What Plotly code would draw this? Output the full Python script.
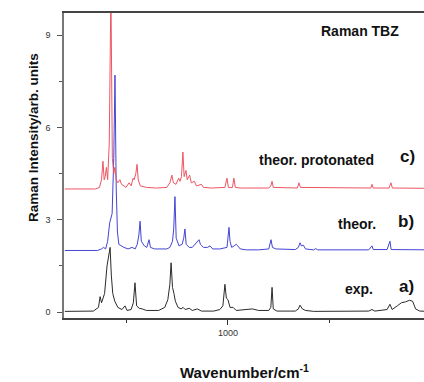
import plotly.graph_objects as go

# Raman spectra of TBZ: wavenumber (cm^-1) and intensity (arb. units, offset per trace)
exp_wn = [200, 340, 365, 373, 380, 395, 407, 413, 422, 428, 435, 445, 460, 480, 495, 505,
          525, 536, 544, 552, 565, 580, 600, 660, 690, 705, 715, 721, 728, 735, 742, 755,
          770, 780, 790, 810, 825, 850, 870, 930, 960, 975, 985, 992, 1000, 1010, 1025,
          1040, 1080, 1120, 1150, 1200, 1210, 1216, 1222, 1240, 1330, 1345, 1353, 1365,
          1380, 1420, 1690, 1706, 1720, 1780, 1794, 1805, 1830, 1850, 1870, 1890, 1905,
          1920, 1940, 1990]
exp_int = [0.02, 0.03, 0.15, 0.5, 0.3, 0.6, 1.5, 1.7, 2.1, 1.2, 0.6, 0.35, 0.15, 0.08, 0.2, 0.05,
           0.08, 0.3, 0.95, 0.2, 0.12, 0.1, 0.05, 0.05, 0.15, 0.4, 0.9, 1.6, 0.8, 0.6, 0.35, 0.15,
           0.1, 0.15, 0.08, 0.12, 0.05, 0.1, 0.03, 0.03, 0.08, 0.2, 0.9, 0.45, 0.4, 0.15, 0.15,
           0.05, 0.07, 0.1, 0.05, 0.05, 0.15, 0.8, 0.1, 0.03, 0.03, 0.1, 0.22, 0.1,
           0.05, 0.02, 0.03, 0.08, 0.03, 0.08, 0.25, 0.08, 0.2, 0.3, 0.33, 0.38, 0.35,
           0.1, 0.03, 0.02]

theor_wn = [200, 360, 380, 390, 400, 410, 420, 432, 440, 446, 452, 458, 465, 475, 490, 510,
            530, 545, 555, 563, 569, 575, 590, 602, 613, 620, 640, 700, 715, 728, 734, 740,
            746, 760, 775, 783, 789, 795, 810, 825, 840, 850, 858, 865, 880, 900, 912, 925,
            960, 995, 1000, 1005, 1010, 1018, 1030, 1040, 1048, 1060, 1090, 1150, 1200, 1211,
            1218, 1235, 1330, 1345, 1353, 1360, 1370, 1380, 1420, 1430, 1440, 1690, 1706,
            1712, 1780, 1794, 1800, 1990]
theor_int = [2.0, 2.0, 2.05, 2.1, 2.05, 2.3, 2.9, 3.2, 5.0, 7.7, 4.0, 2.6, 2.2, 2.15, 2.1, 2.05,
             2.1, 2.05, 2.2, 2.5, 2.95, 2.3, 2.15, 2.1, 2.35, 2.1, 2.05, 2.05, 2.1, 2.3, 2.7, 3.75,
             2.4, 2.15, 2.2, 2.4, 2.7, 2.2, 2.1, 2.1, 2.2, 2.3, 2.35, 2.2, 2.1, 2.1, 2.15, 2.05,
             2.05, 2.1, 2.4, 2.75, 2.3, 2.1, 2.15, 2.2, 2.15, 2.05, 2.02, 2.02, 2.05, 2.35,
             2.1, 2.05, 2.03, 2.1, 2.25, 2.15, 2.17, 2.05, 2.02, 2.06, 2.02, 2.02, 2.15,
             2.03, 2.03, 2.3, 2.03, 2.02]

prot_wn = [200, 350, 370, 380, 387, 393, 398, 404, 410, 418, 426, 433, 440, 445, 452, 460,
           470, 478, 490, 500, 515, 525, 535, 540, 548, 554, 560, 570, 600, 650, 700, 715,
           725, 732, 745, 758, 765, 772, 779, 785, 794, 800, 812, 820, 835, 845, 870, 880,
           920, 985, 995, 1002, 1022, 1029, 1036, 1060, 1200, 1210, 1216, 1222, 1340, 1348,
           1355, 1700, 1706, 1712, 1790, 1799, 1806, 1990]
prot_int = [4.0, 4.0, 4.05, 4.3, 4.9, 4.3, 4.4, 4.7, 4.3, 5.5, 10.5, 5.0, 4.5, 4.7, 4.3, 4.2,
            4.3, 4.15, 4.1, 4.05, 4.2, 4.1, 4.35, 4.3, 4.5, 4.8, 4.3, 4.1, 4.05, 4.03, 4.05, 4.2,
            4.45, 4.2, 4.15, 4.35, 4.25, 4.4, 5.2, 4.4, 4.6, 4.3, 4.45, 4.2, 4.25, 4.1, 4.15, 4.05,
            4.03, 4.05, 4.35, 4.05, 4.05, 4.35, 4.05, 4.03, 4.03, 4.1, 4.25, 4.05, 4.03, 4.2,
            4.05, 4.03, 4.15, 4.03, 4.03, 4.2, 4.03, 4.02]

y_ticks = [0, 3, 6, 9]
x_ticks = [1000]

FONT = "Liberation Sans, Arial, sans-serif"

fig = go.Figure()
fig.add_trace(go.Scatter(x=exp_wn, y=exp_int, mode="lines",
                         line=dict(color="#2b2b2b", width=1), name="exp."))
fig.add_trace(go.Scatter(x=theor_wn, y=theor_int, mode="lines",
                         line=dict(color="#4444d4", width=1), name="theor."))
fig.add_trace(go.Scatter(x=prot_wn, y=prot_int, mode="lines",
                         line=dict(color="#ec5662", width=1), name="theor. protonated"))

labels = [
    ("<b>Raman TBZ</b>", 0.822, 0.941, 14),
    ("<b>theor. protonated</b>", 0.702, 0.518, 14),
    ("<b>c)</b>", 0.955, 0.528, 17),
    ("<b>theor.</b>", 0.814, 0.308, 14),
    ("<b>b)</b>", 0.95, 0.315, 17),
    ("<b>exp.</b>", 0.82, 0.095, 14),
    ("<b>a)</b>", 0.95, 0.102, 17),
]
annotations = [dict(text=t, x=x, y=y, xref="paper", yref="paper", showarrow=False,
                    xanchor="center", yanchor="middle",
                    font=dict(family=FONT, size=s, color="#111111"))
               for t, x, y, s in labels]
annotations.append(dict(text="<b>Raman Intensity/arb. units</b>", x=-0.086, y=0.59,
                        xref="paper", yref="paper", showarrow=False, textangle=-90,
                        xanchor="center", yanchor="middle",
                        font=dict(family=FONT, size=13.5, color="#111111")))
annotations.append(dict(text="<b>Wavenumber/cm<sup>-1</sup></b>", x=0.5, y=-0.177,
                        xref="paper", yref="paper", showarrow=False,
                        xanchor="center", yanchor="middle",
                        font=dict(family=FONT, size=15, color="#111111")))

fig.update_layout(
    width=424, height=382,
    margin=dict(l=64, r=0, t=13, b=64),
    paper_bgcolor="white", plot_bgcolor="white",
    showlegend=False,
    annotations=annotations,
    xaxis=dict(range=[196, 1961], tickmode="array", tickvals=x_ticks,
               ticktext=[str(v) for v in x_ticks],
               ticks="outside", ticklen=5, tickcolor="#333333", tickwidth=1,
               minor=dict(tickmode="array", tickvals=[500, 1500], ticks="outside",
                          ticklen=3, tickcolor="#333333"),
               showline=True, linecolor="#444444", linewidth=2, mirror=True,
               showgrid=False, zeroline=False,
               tickfont=dict(family=FONT, size=9, color="#333333")),
    yaxis=dict(range=[-0.195, 9.72], tickmode="array", tickvals=y_ticks,
               ticks="outside", ticklen=5, tickcolor="#555555", tickwidth=1,
               ticklabelstandoff=5,
               minor=dict(tickmode="array", tickvals=[1.5, 4.5, 7.5], ticks="outside",
                          ticklen=3, tickcolor="#555555"),
               showline=True, linecolor="#777777", linewidth=1.5, mirror=False,
               showgrid=False, zeroline=False,
               tickfont=dict(family=FONT, size=9, color="#333333")),
)

fig.write_html("out.html")
